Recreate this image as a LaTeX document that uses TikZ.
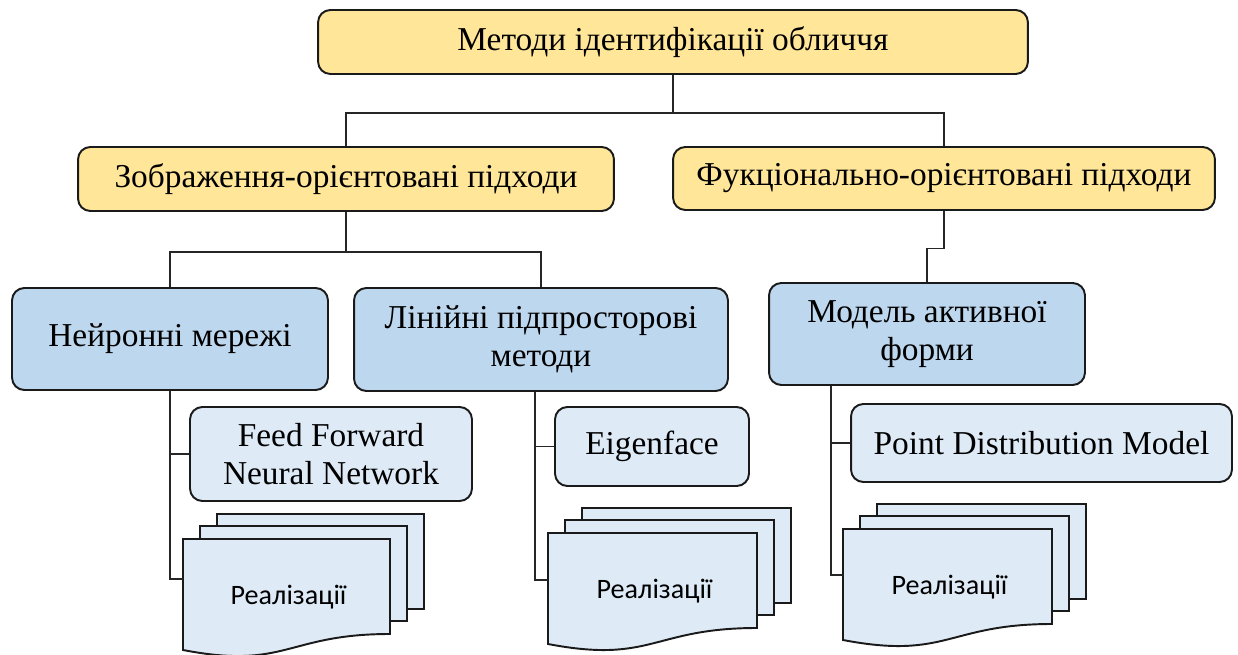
\documentclass[tikz,border=0pt]{standalone}
\usepackage{fontspec}
\setmainfont{Liberation Serif}
\newfontfamily\calib{Carlito}
\definecolor{yel}{HTML}{FFE699}
\definecolor{blu}{HTML}{BDD7EE}
\definecolor{lblu}{HTML}{DEEBF7}
\definecolor{edge}{HTML}{1A1A1A}
\tikzset{
  box/.style={draw=edge, line width=1.1pt, rounded corners=7pt, align=center,
    font=\fontsize{19}{21.5}\selectfont, inner sep=0pt},
  topbox/.style={box, fill=yel},
  midbox/.style={box, fill=blu},
  subbox/.style={box, fill=lblu},
  conn/.style={draw=black!85, line width=0.6pt},
  page/.style={draw=edge, line width=1.1pt, fill=lblu, line join=miter},
}
\newcommand\multidoc[4]{%
  \path[page] ({#2+34},{#3-25}) rectangle ({#2+34+#4},{#3-25+95});
  \path[page] ({#2+17},{#3-13}) rectangle ({#2+17+#4},{#3-13+95});
  \path[page] (#2,#3) -- ({#2+#4},#3) -- ({#2+#4},{#3+95})
     .. controls ({#2+0.5*#4},{#3+95}) and ({#2+0.5*#4},{#3+131}) .. (#2,{#3+111}) -- cycle;
  \node[font=\calib\fontsize{16}{18}\selectfont] (#1) at ({#2+0.5*#4+2},{#3+58}) {Реалізації};
}
\begin{document}
\begin{tikzpicture}[x=0.02cm,y=-0.02cm]
\useasboundingbox (0,0) rectangle (1238,655);
\node[topbox, minimum width=14.2cm, minimum height=1.28cm] (top) at (673,42) {Методи ідентифікації обличчя};
\node[topbox, minimum width=10.72cm, minimum height=1.28cm] (zor) at (346,179) {Зображення-орієнтовані підходи};
\node[topbox, minimum width=10.84cm, minimum height=1.26cm] (fuk) at (944,178.5) {Фукціонально-орієнтовані підходи};
\node[midbox, minimum width=6.32cm, minimum height=2.04cm] (ney) at (170,339) {Нейронні мережі};
\node[midbox, minimum width=7.48cm, minimum height=2.06cm] (lin) at (541,339.5) {Лінійні підпросторові\\методи};
\node[midbox, minimum width=6.32cm, minimum height=2.04cm] (mod) at (927,334) {Модель активної\\форми};
\node[subbox, minimum width=5.64cm, minimum height=1.88cm] (ffnn) at (331,454) {Feed Forward\\Neural Network};
\node[subbox, minimum width=3.88cm, minimum height=1.58cm] (eig) at (652,446.5) {Eigenface};
\node[subbox, minimum width=7.62cm, minimum height=1.56cm] (pdm) at (1041.5,443) {Point Distribution Model};

\multidoc{r1}{183}{539}{207}
\multidoc{r2}{548}{533}{209}
\multidoc{r3}{843}{529}{209}

\coordinate (b1) at (673,113);
\coordinate (b2) at (346,252);
\coordinate (v1) at (170,579);
\coordinate (d1) at (183,579);
\coordinate (v2) at (535,580);
\coordinate (d2) at (548,580);
\coordinate (v3) at (831,575);
\coordinate (d3) at (843,575);

\draw[conn] (top.south) -- (b1);
\draw[conn] (zor.north) |- (b1) -| (fuk.north);
\draw[conn] (zor.south) -- (b2);
\draw[conn] (ney.north) |- (b2) -| (lin.north);
\draw[conn] (fuk.south) -- ++(0,38) -| (mod.north);
\draw[conn] (ney.south) -- (v1) -- (d1);
\draw[conn] (v1 |- ffnn.west) -- (ffnn.west);
\draw[conn] (v2 |- lin.south) -- (v2) -- (d2);
\draw[conn] (v2 |- eig.west) -- (eig.west);
\draw[conn] (v3 |- mod.south) -- (v3) -- (d3);
\draw[conn] (v3 |- pdm.west) -- (pdm.west);
\end{tikzpicture}
\end{document}
